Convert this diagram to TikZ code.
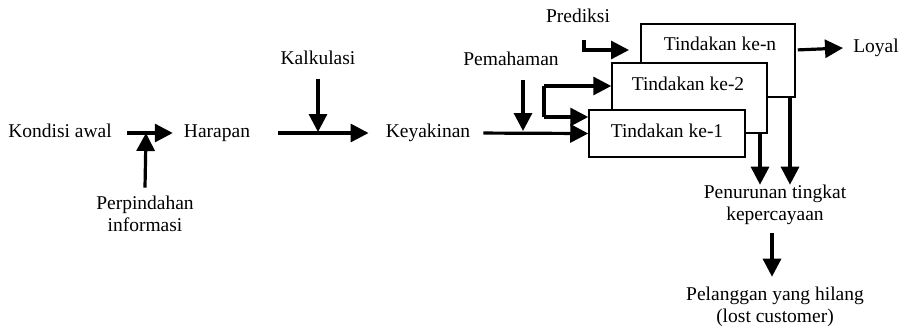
\documentclass[tikz,border=0pt]{standalone}
\usepackage{fontspec}
\setmainfont{Liberation Serif}
\usetikzlibrary{arrows.meta}
\begin{document}
\begin{tikzpicture}[x=1pt,y=-1pt,
  every node/.style={font=\fontsize{19.5}{22.5}\selectfont, inner sep=0pt, align=center},
  lbl/.style={text height=13pt, text depth=4pt},
  arr/.style={line width=3.2pt, -{Triangle[length=18pt,width=18pt]}},
  ln/.style={line width=3.2pt},
  frame/.style={draw, line width=1.5pt, fill=white, minimum width=#1, inner sep=0pt},
]
\useasboundingbox (0,0) rectangle (905,330);

% text labels
\node[lbl] (kondisi) at (60,133) {Kondisi awal};
\node[lbl] (harapan) at (217,133) {Harapan};
\node[lbl] (keyakinan) at (428,133) {Keyakinan};
\node[lbl] (kalkulasi) at (318,60) {Kalkulasi};
\node (pindah) at (145,214) {Perpindahan\\informasi};
\node[lbl] (pemahaman) at (511,61) {Pemahaman};
\node[lbl] (prediksi) at (578,18) {Prediksi};
\node[lbl] (loyal) at (876,48) {Loyal};
\node (turun) at (775,205) {Penurunan tingkat\\kepercayaan};
\node (hilang) at (775,307) {Pelanggan yang hilang\\(lost customer)};

% stacked action boxes, back to front
\node[frame=154pt, minimum height=73pt] (boxn) at (718,60.5) {};
\node[lbl] (tn) at (720,46) {Tindakan ke-n};
\node[frame=155pt, minimum height=70pt] (box2) at (689.5,98) {};
\node[lbl] (t2) at (688,86) {Tindakan ke-2};
\node[frame=156pt, minimum height=47pt] (box1) at (667,133.5) {};
\node[lbl] (t1) at (667,133) {Tindakan ke-1};

% junction points
\coordinate (j1) at (146,133);
\coordinate (j2) at (318,132);
\coordinate (j3) at (523,131);
\coordinate (br) at (544,86);
\coordinate (bb) at (544,117);
\coordinate (pr) at (584,40);
\coordinate (d1) at (760,133);
\coordinate (d2) at (790,97);

% main chain
\draw[arr, shorten <=15pt, shorten >=11pt] (kondisi.east) -- (harapan.west);
\draw[arr] (pindah.north) ++(0,-8) -- (j1);
\draw[arr, shorten <=28pt, shorten >=17pt] (harapan.east) -- (keyakinan.west);
\draw[arr, shorten <=10pt] (kalkulasi.south) -- (j2);
\draw[arr, shorten <=13pt] (keyakinan.east) -- (box1.west);
\draw[arr, shorten <=10pt] (pemahaman.south -| j3) -- (j3);

% branch to the first two boxes
\draw[ln] (bb) -- (br);
\draw[arr] (br) -- (br -| box2.west);
\draw[arr] (bb) -- (bb -| box1.west);

% prediction input
\draw[arr] (pr) |- (629,50);

% outputs
\draw[arr, shorten <=2pt] (boxn.east |- 0,50) -- (loyal.west -| 843,0);
\draw[arr] (d1) -- (turun.north -| d1);
\draw[arr] (d2) -- (turun.north -| d2);
\draw[arr, shorten <=8pt, shorten >=10pt] (turun.south -| 772,0) -- (hilang.north -| 772,0);
\end{tikzpicture}
\end{document}
